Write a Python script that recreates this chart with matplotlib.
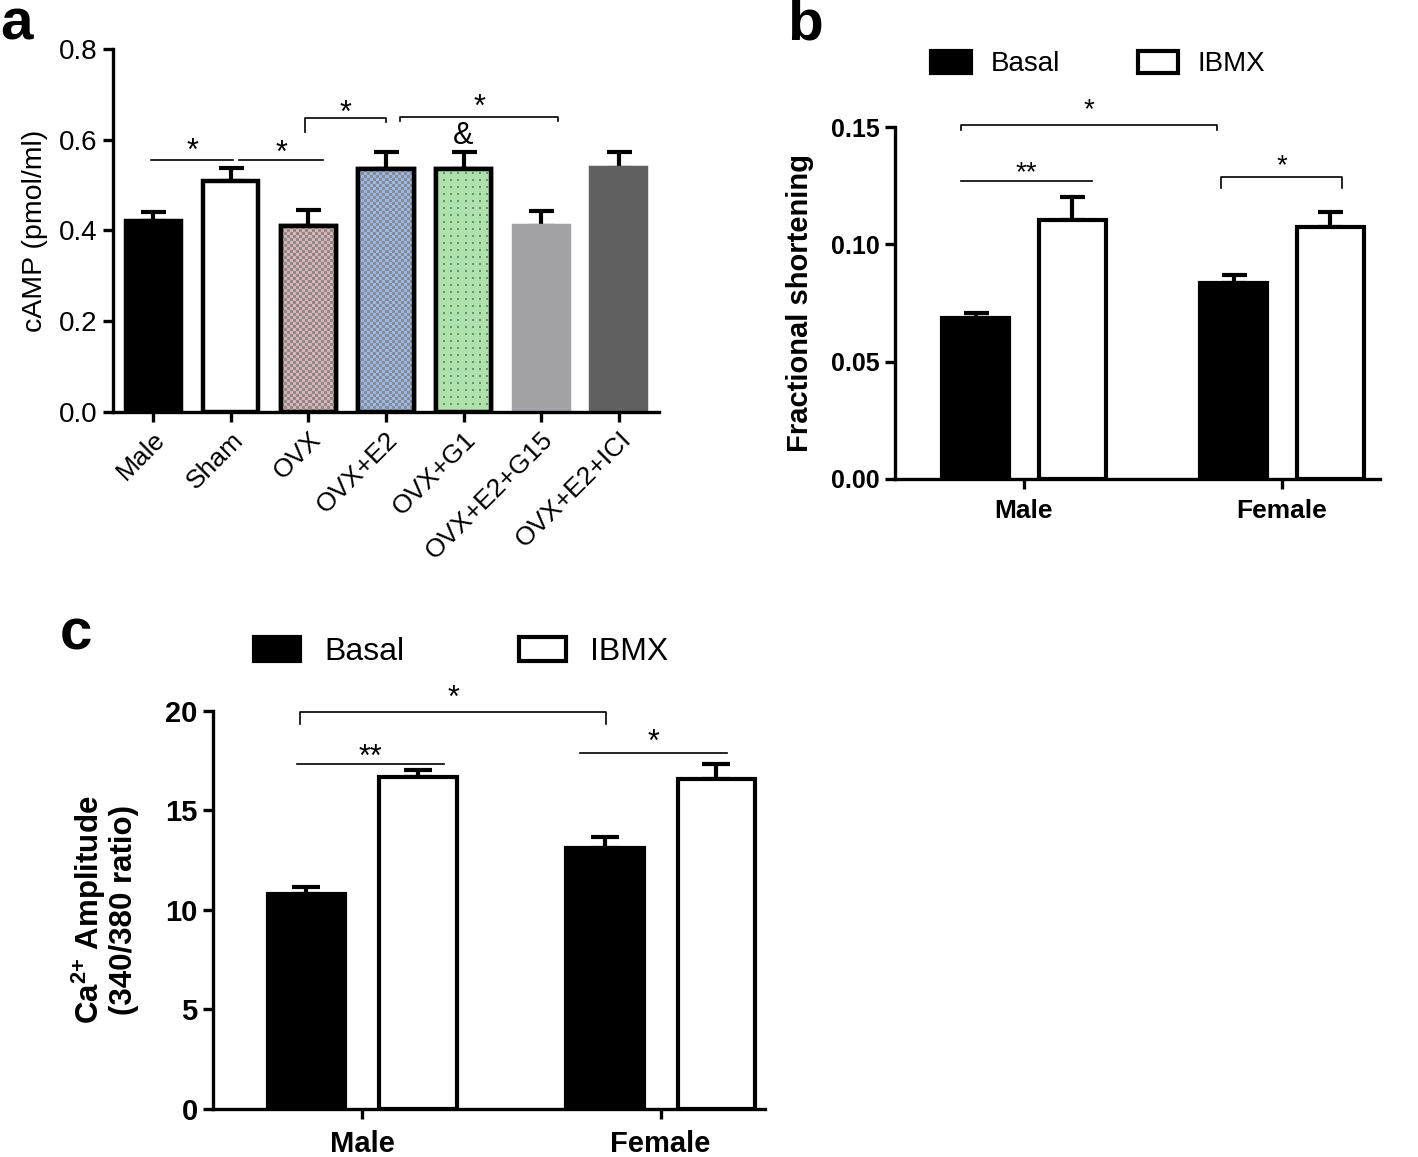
import matplotlib

matplotlib.use("Agg")
import matplotlib.pyplot as plt
from matplotlib.colors import to_rgb
from matplotlib.patches import Patch
import numpy as np

plt.rcParams.update({"font.family": ["Liberation Sans", "DejaVu Sans"],
                     "mathtext.fontset": "custom", "mathtext.rm": "Liberation Sans",
                     "mathtext.bf": "Liberation Sans:bold", "axes.linewidth": 2.4})

# --- panel a : cAMP ---
a_groups = ["Male", "Sham", "OVX", "OVX+E2", "OVX+G1", "OVX+E2+G15", "OVX+E2+ICI"]
a_mean = [0.420, 0.508, 0.409, 0.535, 0.535, 0.411, 0.537]
a_sem = [0.020, 0.030, 0.036, 0.037, 0.037, 0.032, 0.035]
a_face = ["black", "white", "#dbb1b1", "#95b8f0", "#ade2ad", "#a3a3a7", "#606060"]
a_edge = ["black", "black", "black", "black", "black", "#a3a3a7", "#606060"]
a_texture = [None, None, "checker", "checker", "dots", None, None]
# (x1, x2, y line, left drop, right drop, label, label y)
a_sig = [(-0.03, 1.03, 0.555, 0, 0, "*", 0.573),
         (1.11, 2.19, 0.555, 0, 0, "*", 0.568),
         (1.95, 3.00, 0.647, 0.030, 0.008, "*", 0.658),
         (3.18, 5.22, 0.651, 0.010, 0.010, "*", 0.670),
         (4.00, 4.00, None, 0, 0, "&", 0.608)]

# --- panel b : fractional shortening ---
sex = ["Male", "Female"]
b_basal = [0.0684, 0.0835]
b_basal_sem = [0.0022, 0.0033]
b_ibmx = [0.1103, 0.1074]
b_ibmx_sem = [0.0100, 0.0066]
b_sig = [(-0.245, 0.748, 0.1511, 0.0023, 0.0023, "*", 0.1575),
         (-0.245, 0.264, 0.1269, 0, 0, "**", 0.1305),
         (0.764, 1.233, 0.1287, 0.0047, 0.0047, "*", 0.1335)]

# --- panel c : Ca2+ amplitude ---
c_basal = [10.79, 13.12]
c_basal_sem = [0.35, 0.52]
c_ibmx = [16.69, 16.55]
c_ibmx_sem = [0.34, 0.80]
c_sig = [(-0.207, 0.818, 19.94, 0.62, 0.62, "*", 20.6),
         (-0.219, 0.273, 17.32, 0, 0, "**", 17.65),
         (0.729, 1.224, 17.89, 0, 0, "*", 18.4)]

W, OFF = 0.26, 0.187
W_PX, H_PX = 1418, 1157
fig = plt.figure(figsize=(W_PX / 100, H_PX / 100), dpi=100)


def frac(l, r, t, b):
    return [l / W_PX, 1 - b / H_PX, (r - l) / W_PX, (b - t) / H_PX]


def style(ax, fs, bold):
    for s in ("top", "right"):
        ax.spines[s].set_visible(False)
    ax.tick_params(length=7, width=2.4, labelsize=fs, pad=4)
    if bold:
        for lab in ax.get_xticklabels() + ax.get_yticklabels():
            lab.set_fontweight("bold")


def sig(ax, items, fs):
    for x1, x2, y, d1, d2, txt, ty in items:
        if y is not None:
            ax.plot([x1, x1, x2, x2], [y - d1, y, y, y - d2], color="black", lw=1.2,
                    clip_on=False)
        ax.text((x1 + x2) / 2, ty, txt, ha="center", va="center", fontsize=fs)


def errbar(ax, x, m, e, cap):
    ax.errorbar(x, m, yerr=[np.zeros(len(m)), e], fmt="none", ecolor="black",
                elinewidth=3, capsize=cap, capthick=3, zorder=1)


def legend(ax, fs, x, y, hl, hh, tp, cs):
    ax.legend(handles=[Patch(facecolor="black", edgecolor="black", lw=3, label="Basal"),
                       Patch(facecolor="white", edgecolor="black", lw=3, label="IBMX")],
              ncol=2, frameon=False, fontsize=fs, loc="center left",
              bbox_to_anchor=(x / W_PX, 1 - y / H_PX), bbox_transform=fig.transFigure,
              borderpad=0, borderaxespad=0, handlelength=hl, handleheight=hh,
              handletextpad=tp, columnspacing=cs)


def texture(ax, rect, kind, base):
    # pixel-level fill pattern (GraphPad style checkerboard / dots) clipped to the bar
    (x0, y0), (x1, y1) = ax.transData.transform([(rect.get_x(), 0),
                                                 (rect.get_x() + rect.get_width(), rect.get_height())])
    nx, ny = int(round(x1 - x0)), int(round(y1 - y0))
    jj, ii = np.meshgrid(np.arange(nx), np.arange(ny))
    img = np.ones((ny, nx, 3)) * np.array(to_rgb(base))
    if kind == "checker":
        mask = ((ii // 3) + (jj // 3)) % 2 == 0
        img[mask] = to_rgb("#8c8c8c")
    else:
        mask = (ii % 7 < 2) & (jj % 7 < 2)
        img[mask] = to_rgb("#6f8f6f")
    im = ax.imshow(img, extent=(rect.get_x(), rect.get_x() + rect.get_width(), 0, rect.get_height()),
                   origin="lower", interpolation="nearest", aspect="auto", zorder=2)
    im.set_clip_path(rect)


# panel a
ax = fig.add_axes(frac(113, 659, 49, 412))
xa = np.arange(len(a_groups))
ax.set_xlim(-0.52, 6.52)
ax.set_ylim(0, 0.8)
errbar(ax, xa, a_mean, a_sem, 9)
for i in range(len(xa)):
    bars = ax.bar(xa[i], a_mean[i], 0.71, color=a_face[i], edgecolor=a_edge[i],
                  linewidth=3.2, zorder=2)
    if a_texture[i]:
        texture(ax, bars[0], a_texture[i], a_face[i])
        ax.bar(xa[i], a_mean[i], 0.71, color="none", edgecolor="black", linewidth=3.2, zorder=3)
ax.set_xlim(-0.52, 6.52)
ax.set_ylim(0, 0.8)
ax.set_yticks([0, 0.2, 0.4, 0.6, 0.8])
ax.set_yticklabels([f"{v:.1f}" for v in [0, 0.2, 0.4, 0.6, 0.8]])
ax.set_xticks(xa)
ax.set_xticklabels(a_groups, rotation=45, ha="right", rotation_mode="anchor")
ax.set_ylabel("cAMP (pmol/ml)", fontsize=20.5, labelpad=8)
style(ax, 20, False)
ax.tick_params(axis="x", labelsize=19)
sig(ax, a_sig, 22)

# panel b
ax = fig.add_axes(frac(895, 1380, 127.4, 478.6))
xb = np.arange(len(sex))
errbar(ax, xb - OFF, b_basal, b_basal_sem, 9)
errbar(ax, xb + OFF, b_ibmx, b_ibmx_sem, 9)
ax.bar(xb - OFF, b_basal, W, color="black", edgecolor="black", linewidth=3, zorder=2)
ax.bar(xb + OFF, b_ibmx, W, color="white", edgecolor="black", linewidth=3, zorder=2)
ax.set_xlim(-0.5, 1.38)
ax.set_ylim(0, 0.15)
ax.set_yticks([0, 0.05, 0.10, 0.15])
ax.set_yticklabels([f"{v:.2f}" for v in [0, 0.05, 0.10, 0.15]])
ax.set_xticks(xb)
ax.set_xticklabels(sex)
ax.set_ylabel("Fractional shortening", fontsize=21, fontweight="bold", labelpad=12)
style(ax, 18, True)
ax.tick_params(axis="x", labelsize=19, pad=8)
sig(ax, b_sig, 20)
legend(ax, 20, 931, 64, 1.45, 0.85, 0.7, 2.8)

# panel c
ax = fig.add_axes(frac(213, 765, 710.8, 1108.7))
errbar(ax, xb - OFF, c_basal, c_basal_sem, 10)
errbar(ax, xb + OFF, c_ibmx, c_ibmx_sem, 10)
ax.bar(xb - OFF, c_basal, W, color="black", edgecolor="black", linewidth=3, zorder=2)
ax.bar(xb + OFF, c_ibmx, W, color="white", edgecolor="black", linewidth=3, zorder=2)
ax.set_xlim(-0.5, 1.35)
ax.set_ylim(0, 20)
ax.set_yticks([0, 5, 10, 15, 20])
ax.set_xticks(xb)
ax.set_xticklabels(sex)
ax.set_ylabel("Ca$^{\\mathbf{2{+}}}$ Amplitude\n(340/380 ratio)", fontsize=22.5,
              fontweight="bold", labelpad=19, linespacing=1.05)
style(ax, 21, True)
ax.tick_params(axis="x", labelsize=21, pad=8)
sig(ax, c_sig, 22)
legend(ax, 23, 254, 652, 1.45, 0.78, 0.75, 3.6)

# panel letters
for txt, x, y in [("a", 0, -2), ("b", 787, -2), ("c", 60, 608)]:
    fig.text(x / W_PX, 1 - y / H_PX, txt, fontsize=42, fontweight="bold", va="top", ha="left")

fig.savefig("out.png", dpi=100)
